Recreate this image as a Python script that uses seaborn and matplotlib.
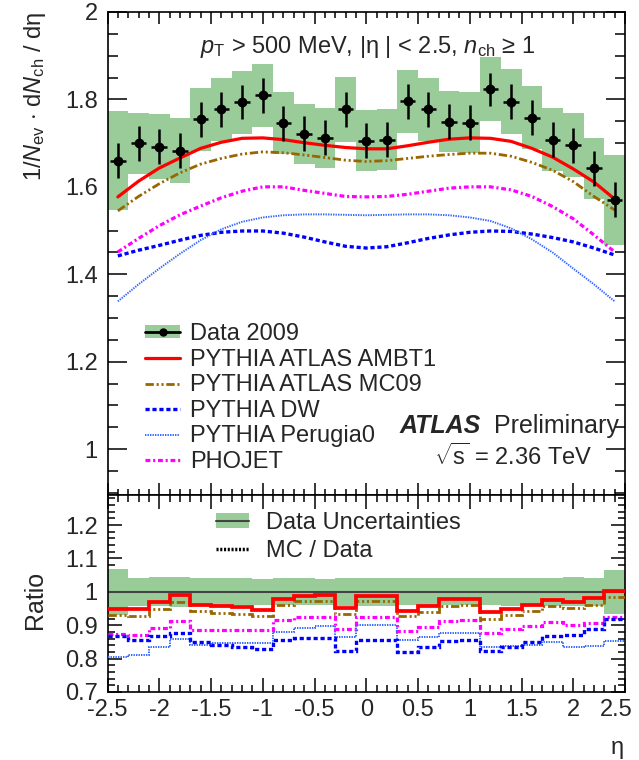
import numpy as np
import pandas as pd
import matplotlib
matplotlib.use("Agg")
import matplotlib.pyplot as plt
import matplotlib.transforms as mtransforms
import seaborn as sns
from matplotlib.lines import Line2D
from matplotlib.patches import Patch
from matplotlib.ticker import MultipleLocator, FormatStrFormatter

# ---------------- data ----------------
eta = [-2.4, -2.2, -2.0, -1.8, -1.6, -1.4, -1.2, -1.0, -0.8, -0.6, -0.4, -0.2, 0.0,
       0.2, 0.4, 0.6, 0.8, 1.0, 1.2, 1.4, 1.6, 1.8, 2.0, 2.2, 2.4]
data_2009 = [1.660, 1.700, 1.692, 1.683, 1.755, 1.777, 1.794, 1.809, 1.746, 1.721, 1.712, 1.777, 1.706,
             1.708, 1.796, 1.777, 1.749, 1.747, 1.823, 1.795, 1.758, 1.708, 1.695, 1.642, 1.570]
data_stat = [0.040, 0.040, 0.040, 0.040, 0.040, 0.040, 0.039, 0.040, 0.040, 0.040, 0.040, 0.040, 0.040,
             0.040, 0.040, 0.040, 0.040, 0.040, 0.038, 0.040, 0.040, 0.040, 0.040, 0.040, 0.040]
data_syst = [0.113, 0.070, 0.074, 0.074, 0.072, 0.073, 0.072, 0.072, 0.070, 0.069, 0.068, 0.075, 0.070,
             0.070, 0.072, 0.071, 0.070, 0.070, 0.073, 0.074, 0.072, 0.072, 0.073, 0.069, 0.102]
ambt1 = [1.577, 1.613, 1.643, 1.666, 1.688, 1.702, 1.711, 1.712, 1.708, 1.701, 1.695, 1.690, 1.687,
         1.687, 1.694, 1.702, 1.709, 1.712, 1.711, 1.704, 1.688, 1.668, 1.641, 1.611, 1.572]
mc09 = [1.545, 1.578, 1.607, 1.632, 1.652, 1.665, 1.675, 1.680, 1.678, 1.673, 1.667, 1.661, 1.658,
        1.660, 1.665, 1.670, 1.674, 1.677, 1.677, 1.670, 1.656, 1.638, 1.612, 1.578, 1.547]
dw = [1.442, 1.455, 1.466, 1.478, 1.489, 1.496, 1.499, 1.499, 1.494, 1.485, 1.474, 1.464, 1.460,
      1.463, 1.472, 1.482, 1.490, 1.496, 1.499, 1.498, 1.492, 1.484, 1.474, 1.460, 1.444]
perugia0 = [1.338, 1.377, 1.413, 1.447, 1.478, 1.503, 1.520, 1.530, 1.535, 1.537, 1.537, 1.536, 1.535,
            1.536, 1.537, 1.537, 1.535, 1.530, 1.522, 1.505, 1.480, 1.450, 1.413, 1.377, 1.338]
phojet = [1.451, 1.482, 1.511, 1.536, 1.556, 1.575, 1.590, 1.600, 1.600, 1.592, 1.585, 1.578, 1.577,
          1.578, 1.583, 1.590, 1.597, 1.600, 1.600, 1.593, 1.578, 1.555, 1.527, 1.490, 1.451]
mc_labels = ["PYTHIA ATLAS AMBT1", "PYTHIA ATLAS MC09", "PYTHIA DW", "PYTHIA Perugia0", "PHOJET"]
bin_width = 0.2

# ---------------- style ----------------
sns.set_theme(style="ticks")
plt.rcParams["font.family"] = ["Liberation Sans", "DejaVu Sans"]
plt.rcParams["mathtext.fontset"] = "custom"
plt.rcParams["mathtext.rm"] = "Liberation Sans"
plt.rcParams["mathtext.it"] = "Liberation Sans:italic"
plt.rcParams["mathtext.bf"] = "Liberation Sans:bold"
plt.rcParams["axes.unicode_minus"] = False
plt.rcParams["lines.scale_dashes"] = False

FS = 17
GREEN = "#99cc99"
styles = {
    "PYTHIA ATLAS AMBT1": dict(color="#ff0000", lw=2.3, ls="-"),
    "PYTHIA ATLAS MC09": dict(color="#996600", lw=2.0, ls=(0, (6, 2, 1.5, 2, 1.5, 2))),
    "PYTHIA DW": dict(color="#0000ff", lw=2.4, ls=(0, (3, 2))),
    "PYTHIA Perugia0": dict(color="#3366ff", lw=1.4, ls=(0, (1, 0.8))),
    "PHOJET": dict(color="#ff00ff", lw=2.3, ls=(0, (3.5, 2, 1.5, 2))),
}
mc_values = [ambt1, mc09, dw, perugia0, phojet]

W, H = 639, 760
fig = plt.figure(figsize=(W / 100, H / 100), dpi=100)
fx = lambda px: px / W
fy = lambda py: 1 - py / H

left, right = 107.5, 625
ax1 = fig.add_axes([fx(left), fy(495), fx(right) - fx(left), fy(12) - fy(495)])
ax2 = fig.add_axes([fx(left), fy(692), fx(right) - fx(left), fy(495) - fy(692)])

eta_a = np.array(eta)
data_a = np.array(data_2009)
syst_a = np.array(data_syst)
edges = np.append(eta_a - bin_width / 2, eta_a[-1] + bin_width / 2)

# ---------------- top panel ----------------
ax1.bar(eta_a, 2 * syst_a, bottom=data_a - syst_a, width=bin_width, color=GREEN,
        linewidth=0, zorder=1)
for lab, vals in zip(mc_labels, mc_values):
    st = styles[lab]
    sns.lineplot(x=eta, y=vals, ax=ax1, color=st["color"], linewidth=st["lw"],
                 estimator=None, sort=False, legend=False, zorder=3)
    ax1.lines[-1].set_linestyle(st["ls"])
ax1.errorbar(eta_a, data_a, yerr=data_stat, xerr=0.075, fmt="none", ecolor="black",
             elinewidth=1.8, capsize=0, zorder=5)
sns.scatterplot(x=eta, y=data_2009, ax=ax1, color="black", s=50, edgecolor="black",
                linewidth=0, zorder=6, legend=False)

ax1.set_xlim(-2.5, 2.5)
ax1.set_ylim(0.895, 2.0)
ax1.yaxis.set_major_locator(MultipleLocator(0.2))
ax1.yaxis.set_minor_locator(MultipleLocator(0.05))
ax1.yaxis.set_major_formatter(FormatStrFormatter("%g"))
ax1.xaxis.set_major_locator(MultipleLocator(0.5))
ax1.xaxis.set_minor_locator(MultipleLocator(0.1))
ax1.tick_params(axis="x", which="both", labelbottom=False)
ax1.tick_params(axis="x", which="major", length=8.6)
ax1.tick_params(axis="x", which="minor", length=4.3)
ax1.tick_params(axis="y", which="major", length=14, labelsize=FS, pad=7)
ax1.tick_params(axis="y", which="minor", length=7)
ax1.set_xlabel("")
ax1.set_ylabel("")

handles = [(Patch(facecolor=GREEN, edgecolor="none"),
            Line2D([], [], color="black", lw=2, marker="o", ms=5))]
for lab in mc_labels:
    st = styles[lab]
    handles.append(Line2D([], [], color=st["color"], lw=st["lw"], ls=st["ls"]))
leg1 = ax1.legend(handles, ["Data 2009"] + mc_labels, loc="upper left",
                  bbox_to_anchor=(fx(145), fy(323)), bbox_transform=fig.transFigure,
                  frameon=False, fontsize=FS, borderpad=0, borderaxespad=0,
                  handlelength=1.5, handleheight=0.5, handletextpad=0.4, labelspacing=0.15)

# ---------------- ratio panel ----------------
rel = syst_a / data_a
ax2.bar(eta_a, 2 * rel, bottom=1 - rel, width=bin_width, color=GREEN, linewidth=0, zorder=1)
ax2.axhline(1.0, color="#444444", lw=1.5, zorder=2)
for lab, vals in reversed(list(zip(mc_labels, mc_values))):
    st = styles[lab]
    ratio = np.array(vals) / data_a
    ax2.stairs(ratio, edges, color=st["color"], linewidth=st["lw"] + (0.4 if lab == mc_labels[0] else 0),
               linestyle=st["ls"], baseline=None, zorder=4 if lab == mc_labels[0] else 3)

ax2.set_xlim(-2.5, 2.5)
ax2.set_ylim(0.7, 1.29)
ax2.yaxis.set_major_locator(MultipleLocator(0.1))
ax2.yaxis.set_minor_locator(MultipleLocator(0.02))
ax2.yaxis.set_major_formatter(FormatStrFormatter("%g"))
ax2.xaxis.set_major_locator(MultipleLocator(0.5))
ax2.xaxis.set_minor_locator(MultipleLocator(0.1))
ax2.xaxis.set_major_formatter(FormatStrFormatter("%g"))
ax2.tick_params(axis="x", which="major", length=10, labelsize=FS, pad=5)
ax2.tick_params(axis="x", which="minor", length=5)
ax2.tick_params(axis="y", which="major", length=10, labelsize=FS, pad=7)
ax2.tick_params(axis="y", which="minor", length=5)
ax2.set_xlabel("")
ax2.set_ylabel("")

h2 = [(Patch(facecolor=GREEN, edgecolor="none"), Line2D([], [], color="#444444", lw=1.5)),
      Line2D([], [], color="black", lw=2.5, ls=(0, (1.5, 1.2)))]
ax2.legend(h2, ["Data Uncertainties", "MC / Data"], loc="upper left",
           bbox_to_anchor=(fx(216), fy(512)), bbox_transform=fig.transFigure,
           frameon=False, fontsize=FS, borderpad=0, borderaxespad=0,
           handlelength=1.4, handleheight=0.6, handletextpad=0.7, labelspacing=0.25)

for ax in (ax1, ax2):
    ax.tick_params(which="both", direction="in", top=True, right=True, width=1.1, color="black")
    for sp in ax.spines.values():
        sp.set_visible(True)
        sp.set_linewidth(1.2)
        sp.set_color("black")
    ax.set_facecolor("white")

# keep the "2.5" tick label at the right edge inside the canvas
fig.canvas.draw()
for tick in ax2.xaxis.get_major_ticks():
    if abs(tick.get_loc() - 2.5) < 1e-6:
        lbl = tick.label1
        lbl.set_transform(lbl.get_transform() +
                          mtransforms.ScaledTranslation(-9 / 100, 0, fig.dpi_scale_trans))

# ---------------- texts ----------------
fig.text(fx(368), fy(47), r"$p_{\mathrm{T}}$ > 500 MeV, |η | < 2.5, $n_{\mathrm{ch}}$ ≥ 1",
         ha="center", va="center", fontsize=FS)
fig.text(fx(400), fy(426), "ATLAS", ha="left", va="center", fontsize=FS + 1,
         fontweight="bold", fontstyle="italic")
fig.text(fx(619), fy(426), "Preliminary", ha="right", va="center", fontsize=FS + 1)
fig.text(fx(513), fy(457), r"$\sqrt{\mathrm{s}}$ = 2.36 TeV", ha="center", va="center", fontsize=FS)
fig.text(fx(35), fy(12), r"1/$N_{\mathrm{ev}}$ $\cdot$ d$N_{\mathrm{ch}}$ / dη", rotation=90,
         ha="center", va="top", fontsize=FS)
fig.text(fx(35), fy(600), "Ratio", rotation=90, ha="center", va="center", fontsize=FS + 1)
fig.text(fx(617), fy(748), "η", ha="center", va="center", fontsize=FS)

fig.savefig("out.png", dpi=100, facecolor="white")
